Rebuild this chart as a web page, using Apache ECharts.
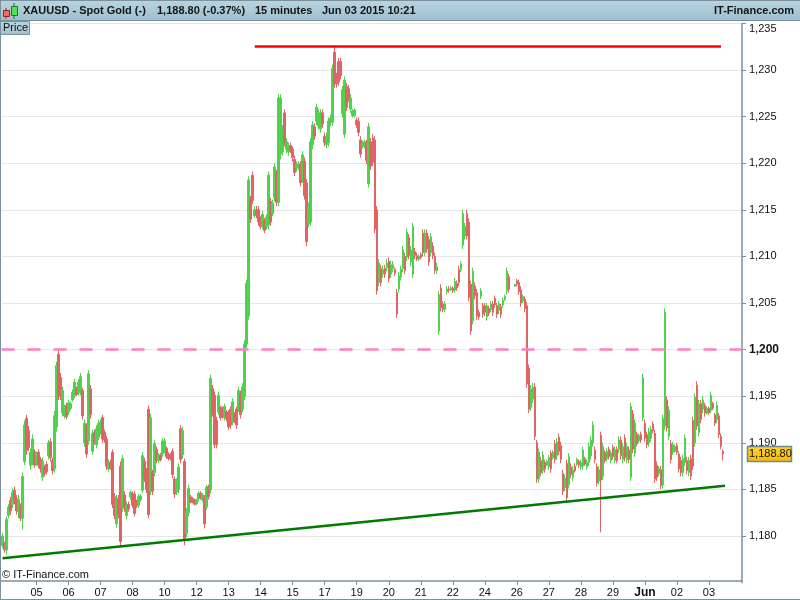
<!DOCTYPE html>
<html>
<head>
<meta charset="utf-8">
<style>html,body{margin:0;padding:0;background:#fff}#c{width:800px;height:600px}</style>
<script src="https://cdn.jsdelivr.net/npm/echarts@6/dist/echarts.min.js"></script>
</head>
<body>
<div id="c"></div>
<script>
const tickLabels = ['05','06','07','08','10','12','13','14','15','17','19','20','21','22','24','26','27','28','29','Jun','02','03'];
const priceTicksMin = 1175, priceTicksMax = 1235, priceStep = 5;
const lastPrice = 1188.80;
const resistance = 1232.6, psychological = 1200;
const supportStart = 1177.6, supportEnd = 1185.4;

const highs = [
1180.3,1179.4,1182.1,1183.4,1184.2,1185.1,1185.3,1184.4,1184.4,1183.5,
1186.8,1192.4,1193.0,1191.8,1189.4,1190.9,1189.3,1189.1,1189.3,1188.5,
1188.4,1187.6,1188.0,1190.3,1190.5,1188.4,1193.4,1198.7,1199.9,1197.5,
1196.0,1194.1,1194.3,1194.6,1194.4,1195.7,1196.9,1196.0,1196.8,1197.5,
1195.9,1192.5,1192.1,1197.8,1196.2,1191.4,1191.4,1191.9,1192.5,1192.5,
1193.0,1191.4,1190.7,1188.2,1188.2,1189.3,1184.6,1184.4,1184.4,1188.0,
1188.7,1184.8,1183.7,1183.7,1184.9,1184.8,1184.8,1183.9,1184.5,1184.5,
1189.0,1188.4,1187.3,1194.0,1193.1,1187.1,1190.3,1189.6,1188.9,1188.9,
1190.5,1190.5,1189.6,1189.0,1188.9,1189.4,1186.4,1186.2,1187.8,1191.9,
1191.7,1188.3,1183.0,1185.5,1184.4,1184.2,1184.0,1184.0,1184.8,1184.8,
1184.6,1184.4,1185.5,1185.5,1197.3,1196.2,1195.5,1192.8,1195.5,1194.0,
1193.9,1194.2,1193.5,1193.5,1193.9,1194.8,1193.3,1193.9,1196.0,1195.6,
1196.4,1201.0,1207.5,1218.6,1216.5,1219.1,1215.4,1215.4,1215.4,1214.3,
1214.9,1214.1,1214.5,1219.1,1216.3,1216.1,1220.0,1219.3,1227.4,1227.4,
1224.1,1225.8,1222.7,1222.2,1222.2,1221.8,1220.8,1220.2,1220.2,1220.2,
1221.3,1220.6,1218.3,1215.8,1222.7,1224.5,1224.3,1226.4,1225.8,1225.8,
1225.8,1223.3,1223.3,1224.9,1225.2,1230.6,1232.5,1229.7,1231.3,1231.3,
1228.3,1229.3,1228.6,1228.4,1227.4,1225.8,1225.9,1224.9,1224.9,1222.9,
1222.4,1222.5,1222.5,1224.3,1222.7,1223.1,1222.9,1215.4,1209.7,1209.1,
1209.0,1209.1,1209.7,1209.9,1209.5,1209.5,1208.8,1206.5,1208.3,1209.0,
1211.1,1210.4,1213.0,1212.4,1211.1,1213.6,1210.9,1210.4,1210.2,1210.4,
1212.9,1212.9,1212.9,1212.2,1212.5,1211.5,1210.4,1209.3,1206.3,1207.0,
1205.2,1205.2,1206.8,1206.8,1206.8,1206.8,1207.7,1207.4,1209.0,1209.5,
1215.0,1213.6,1215.0,1214.1,1207.4,1208.8,1207.2,1206.5,1204.3,1206.6,
1205.0,1205.0,1205.0,1204.7,1205.2,1205.2,1205.8,1205.0,1205.2,1204.9,
1205.6,1205.9,1208.8,1208.1,null,null,1207.0,1207.6,1207.5,1206.8,
1205.9,1205.7,1205.1,1198.4,1196.2,1196.4,1196.4,1190.3,1189.4,1188.5,
1189.1,1188.2,1188.2,1188.7,1189.2,1189.2,1190.3,1190.5,1191.0,1190.1,
1187.1,1186.6,1188.2,1188.9,1187.8,1187.5,1187.8,1188.4,1188.2,1188.2,
1189.6,1188.5,1188.2,1190.0,1190.7,1192.3,1189.6,1187.8,1187.5,1191.2,
1190.0,1189.2,1189.4,1189.6,1189.2,1189.8,1189.6,1189.6,1190.7,1190.7,
1190.0,1190.9,1190.0,1189.6,1194.3,1193.5,1192.5,1191.2,1191.0,1191.2,
1197.4,1192.5,1191.2,1191.6,1191.8,1192.3,1191.4,1188.0,1187.5,1187.5,
1193.0,1204.4,1195.0,1193.9,1190.3,1190.1,1189.8,1190.0,1189.1,1188.5,
1188.7,1190.9,1188.5,1188.5,1188.7,1192.8,1195.3,1196.6,1194.6,1194.6,
1195.0,1194.3,1193.9,1193.9,1195.5,1194.4,1193.2,1194.4,1193.2,1191.0,
1189.3];

const lows = [
1178.7,1178.2,1178.0,1181.9,1182.3,1183.0,1183.4,1182.3,1181.9,1181.6,
1180.7,1187.6,1188.7,1189.1,1187.1,1187.6,1187.3,1187.5,1187.3,1186.8,
1185.9,1186.4,1186.6,1188.2,1188.0,1186.6,1186.8,1191.2,1194.6,1194.6,
1192.8,1192.6,1192.5,1193.0,1193.5,1194.4,1194.8,1195.0,1195.1,1195.1,
1192.5,1189.6,1188.4,1189.8,1192.6,1188.7,1189.8,1189.4,1190.3,1190.9,
1190.0,1190.0,1187.1,1186.9,1187.1,1183.0,1181.8,1180.9,1181.9,1178.9,
1182.6,1182.6,1181.8,1182.6,1183.9,1183.0,1182.1,1183.0,1183.0,1183.7,
1184.6,1185.8,1184.6,1181.9,1184.4,1184.4,1186.4,1187.8,1187.8,1188.0,
1188.5,1188.9,1188.3,1188.1,1188.1,1186.2,1184.1,1184.4,1184.6,1187.8,
1188.3,1179.0,1179.9,1182.1,1183.5,1183.5,1183.3,1183.3,1183.7,1183.9,
1183.7,1180.8,1182.8,1183.9,1184.6,1192.8,1189.4,1189.4,1193.0,1192.4,
1192.6,1192.4,1192.3,1191.4,1191.5,1191.9,1192.1,1191.5,1193.3,1192.6,
1193.3,1194.6,1200.2,1203.2,1213.6,1215.6,1214.1,1214.1,1213.3,1212.9,
1212.9,1212.5,1212.9,1212.9,1213.3,1214.3,1215.9,1215.4,1215.4,1220.4,
1220.8,1221.8,1221.1,1220.8,1221.1,1220.2,1218.6,1219.1,1219.3,1217.5,
1217.9,1216.1,1211.1,1213.1,1213.3,1221.5,1222.5,1224.1,1223.6,1223.3,
1223.8,1221.8,1221.6,1221.8,1224.0,1224.0,1228.1,1228.1,1228.3,1229.0,
1224.9,1222.7,1225.6,1226.6,1225.4,1224.9,1224.9,1223.8,1222.9,1220.6,
1221.6,1221.6,1219.9,1217.4,1219.3,1219.7,1212.5,1205.9,1206.8,1206.8,
1207.7,1207.7,1208.4,1207.2,1207.7,1208.3,1207.9,1203.4,1206.1,1207.4,
1208.3,1208.1,1209.5,1209.7,1209.0,1207.7,1209.7,1209.5,1209.5,1209.7,
1210.0,1210.0,1210.4,1209.0,1210.0,1209.7,1208.1,1208.1,1201.6,1204.1,
1204.0,1204.0,1205.9,1206.1,1206.3,1206.1,1206.1,1206.3,1206.8,1208.3,
1210.8,1211.8,1211.8,1205.2,1201.6,1202.7,1205.4,1203.2,1203.2,1205.4,
1203.4,1203.6,1203.1,1203.6,1204.0,1203.6,1204.5,1203.4,1203.8,1203.4,
1204.5,1205.2,1205.9,1206.1,null,null,1206.8,1206.8,1205.9,1204.6,
1205.0,1204.0,1195.9,1193.2,1193.4,1194.3,1190.3,1185.7,1185.7,1186.4,
1186.6,1186.8,1187.5,1187.1,1186.8,1188.2,1187.8,1188.2,1188.7,1187.8,
1184.4,1184.8,1183.7,1185.1,1186.2,1185.9,1186.8,1187.5,1187.3,1187.1,
1187.1,1187.5,1187.1,1187.5,1188.2,1189.6,1187.8,1185.3,1185.5,1180.4,
1186.0,1187.8,1188.0,1188.2,1187.8,1188.2,1187.8,1187.8,1188.9,1188.2,
1187.8,1188.0,1187.8,1187.8,1185.9,1188.9,1188.5,1189.6,1190.0,1190.0,
1192.3,1190.1,1189.4,1189.6,1190.1,1191.0,1185.7,1185.9,1186.4,1185.0,
1185.1,1191.4,1191.2,1190.3,1187.8,1188.7,1188.9,1188.7,1186.8,1186.4,
1186.4,1187.5,1186.6,1186.4,1186.0,1187.1,1189.6,1191.4,1190.7,1192.1,
1193.2,1192.8,1193.0,1193.0,1193.2,1193.5,1191.8,1192.1,1190.5,1189.3,
1188.1];

const opens = [
1179.0,1179.1,1178.5,1182.2,1183.8,1183.4,1184.9,1184.0,1182.6,1183.2,
1181.9,1188.0,1192.6,1191.3,1187.6,1188.1,1189.0,1187.9,1189.0,1188.2,
1186.3,1187.3,1187.7,1188.6,1190.1,1188.1,1187.2,1191.7,1199.5,1197.0,
1193.2,1192.9,1194.0,1193.3,1193.7,1194.6,1195.1,1195.8,1195.4,1195.4,
1195.6,1190.0,1191.8,1190.2,1195.8,1189.1,1191.1,1189.8,1190.6,1191.2,
1192.7,1191.1,1190.4,1187.2,1187.9,1189.0,1184.2,1181.3,1184.0,1187.5,
1183.0,1184.4,1182.2,1183.4,1184.2,1184.5,1184.5,1183.7,1183.3,1183.9,
1184.9,1188.0,1187.0,1193.6,1184.8,1186.8,1186.8,1189.3,1188.1,1188.7,
1188.8,1189.2,1189.4,1188.8,1188.7,1189.1,1186.1,1184.7,1185.0,1191.5,
1188.7,1188.0,1180.3,1182.5,1184.2,1184.0,1183.9,1183.5,1184.0,1184.6,
1183.9,1184.1,1183.1,1185.3,1185.0,1195.8,1195.1,1192.4,1193.3,1193.8,
1193.6,1192.7,1193.3,1193.2,1193.6,1192.2,1193.1,1193.6,1193.6,1195.2,
1193.6,1195.0,1200.6,1203.6,1216.1,1218.7,1214.4,1215.0,1215.0,1214.0,
1213.3,1213.8,1213.2,1213.4,1215.9,1214.6,1216.3,1218.9,1215.8,1221.0,
1221.2,1225.4,1221.5,1221.2,1221.9,1221.5,1220.4,1219.5,1219.6,1219.9,
1218.3,1220.2,1217.9,1213.5,1213.7,1222.0,1223.9,1224.5,1224.0,1223.7,
1225.4,1222.9,1222.0,1222.2,1224.4,1224.4,1231.9,1229.3,1230.9,1230.9,
1225.3,1223.1,1228.2,1228.0,1225.8,1225.1,1225.1,1224.6,1224.5,1222.5,
1221.8,1221.8,1222.1,1217.8,1222.3,1222.7,1222.5,1215.0,1207.2,1208.7,
1208.1,1208.7,1208.8,1209.5,1208.1,1208.7,1208.6,1206.1,1206.5,1207.8,
1208.7,1210.0,1209.9,1212.0,1209.4,1208.1,1210.5,1210.1,1209.7,1210.2,
1212.5,1210.4,1212.5,1211.8,1210.4,1211.1,1210.0,1208.5,1202.0,1206.6,
1204.9,1204.3,1206.2,1206.5,1206.4,1206.6,1206.4,1207.1,1208.6,1208.6,
1211.2,1212.2,1214.6,1213.7,1207.0,1203.1,1206.8,1206.1,1204.0,1205.7,
1204.7,1204.7,1203.5,1204.4,1204.3,1204.9,1205.5,1204.7,1204.2,1204.6,
1204.8,1205.4,1206.3,1207.8,null,null,1206.8,1207.4,1207.2,1206.4,
1205.2,1205.4,1204.7,1198.0,1193.8,1194.7,1196.0,1190.0,1186.1,1188.1,
1187.0,1187.9,1187.6,1187.4,1188.9,1188.4,1189.9,1188.6,1190.6,1189.7,
1186.7,1185.2,1187.8,1185.5,1187.4,1186.3,1187.5,1187.7,1188.0,1187.4,
1187.5,1188.3,1187.4,1187.9,1188.6,1190.0,1189.2,1187.4,1185.9,1190.8,
1186.4,1189.0,1188.3,1189.3,1188.1,1189.5,1188.1,1189.3,1189.3,1190.3,
1188.2,1190.5,1188.2,1189.2,1186.3,1193.1,1188.9,1190.9,1190.2,1190.9,
1192.7,1192.1,1190.9,1190.0,1190.5,1192.0,1191.0,1187.6,1186.7,1187.1,
1185.5,1191.8,1194.6,1190.7,1189.9,1189.0,1189.1,1189.7,1188.8,1188.1,
1186.8,1187.9,1188.1,1186.8,1188.3,1192.4,1190.0,1196.2,1191.1,1194.2,
1193.6,1194.0,1193.2,1193.7,1193.5,1194.2,1193.0,1192.5,1192.9,1190.7,
1189.1];

const closes = [
1180.0,1178.5,1181.8,1183.1,1182.7,1184.7,1183.8,1182.7,1183.9,1181.9,
1186.4,1191.9,1189.2,1189.5,1189.0,1190.4,1187.6,1188.8,1187.6,1187.2,
1188.0,1186.7,1186.9,1190.0,1188.4,1187.0,1192.9,1198.3,1195.3,1195.0,
1195.6,1193.8,1192.8,1194.3,1194.2,1195.4,1196.5,1195.2,1196.5,1197.1,
1192.9,1192.1,1188.8,1197.4,1193.0,1191.0,1190.1,1191.5,1192.1,1192.2,
1190.4,1190.3,1187.5,1187.9,1187.4,1183.4,1182.2,1184.0,1182.3,1179.4,
1188.3,1183.0,1183.3,1182.9,1184.7,1183.3,1182.4,1183.2,1184.2,1184.3,
1188.6,1186.2,1185.0,1182.3,1192.7,1184.8,1189.9,1188.1,1188.7,1188.2,
1190.2,1190.2,1188.5,1188.3,1188.3,1186.6,1184.5,1185.9,1187.4,1188.2,
1191.3,1179.5,1182.6,1185.1,1183.7,1183.6,1183.4,1183.9,1184.6,1184.1,
1184.4,1181.3,1185.2,1184.2,1196.9,1193.1,1189.8,1189.8,1195.1,1192.7,
1192.9,1193.9,1192.6,1191.7,1191.9,1194.4,1192.3,1191.9,1195.6,1193.0,
1196.0,1200.6,1207.1,1218.2,1214.0,1216.0,1215.0,1214.4,1213.7,1213.2,
1214.5,1212.8,1214.2,1218.7,1213.7,1215.7,1219.6,1215.8,1227.0,1227.0,
1223.7,1222.2,1222.3,1221.8,1221.4,1220.6,1219.0,1219.9,1219.9,1217.9,
1220.9,1216.5,1211.6,1215.4,1222.3,1224.1,1222.9,1226.0,1225.4,1225.4,
1224.2,1222.2,1222.9,1224.5,1224.8,1230.2,1228.5,1228.5,1228.7,1229.4,
1227.9,1228.9,1226.0,1227.0,1227.0,1225.6,1225.7,1224.1,1223.3,1221.0,
1222.2,1222.3,1220.3,1223.9,1219.7,1220.1,1212.9,1206.3,1209.3,1207.2,
1208.6,1208.1,1209.3,1207.6,1209.1,1209.1,1208.2,1203.8,1207.9,1208.6,
1210.7,1208.5,1212.6,1210.1,1210.7,1213.2,1210.1,1209.7,1210.0,1209.9,
1210.4,1212.5,1210.8,1209.4,1212.1,1210.1,1208.5,1208.9,1205.9,1204.5,
1204.3,1204.9,1206.5,1206.4,1206.6,1206.3,1207.3,1206.6,1207.2,1209.2,
1214.6,1213.2,1212.2,1205.6,1202.0,1208.4,1205.8,1203.6,1203.5,1206.3,
1203.8,1204.0,1204.7,1203.9,1204.9,1204.0,1204.8,1203.8,1204.9,1203.8,
1205.3,1205.7,1208.4,1206.5,null,null,1207.0,1207.0,1206.2,1205.0,
1205.7,1204.4,1196.3,1193.6,1195.8,1196.0,1190.7,1186.1,1189.0,1186.8,
1188.7,1187.2,1188.0,1188.4,1187.2,1189.0,1188.2,1190.1,1189.1,1188.2,
1184.8,1186.2,1184.1,1188.5,1186.6,1187.1,1187.0,1188.2,1187.6,1187.9,
1189.2,1187.7,1187.9,1189.6,1190.3,1191.9,1188.2,1185.7,1187.1,1186.0,
1189.6,1188.1,1189.1,1188.5,1188.9,1188.5,1189.3,1188.1,1190.3,1188.6,
1189.6,1188.4,1189.6,1188.2,1193.9,1189.3,1192.1,1189.9,1190.8,1190.3,
1197.0,1190.5,1189.8,1191.2,1191.4,1191.3,1186.1,1186.3,1187.2,1185.4,
1192.6,1204.0,1191.6,1193.5,1188.2,1189.8,1189.6,1189.0,1187.2,1186.8,
1188.3,1190.5,1187.0,1188.1,1186.4,1187.5,1194.9,1191.8,1194.2,1192.5,
1194.6,1193.2,1193.7,1193.2,1195.1,1193.7,1192.1,1194.0,1190.9,1189.6,
1188.8];

const categoryCount = 370;
const categories = Array.from({length: categoryCount}, (_, i) => {
  const k = (i - 17) / 16;
  return Number.isInteger(k) && tickLabels[k] !== undefined ? tickLabels[k] : '';
});
const candleData = opens.map((o, i) => o === null ? ['-','-','-','-'] : [o, closes[i], lows[i], highs[i]]);
const isTick = (i) => categories[i] !== '';

const chart = echarts.init(document.getElementById('c'), null, {renderer: 'canvas'});
const FONT = '"Liberation Sans", Arial, sans-serif';
const FRAME = '#7b919e';
const headerText = (x, text) => ({
  type: 'text', left: x, top: 5.5, z: 20,
  style: {text, fill: '#141414', font: 'bold 11px ' + FONT}
});
const barFill = () => new echarts.graphic.LinearGradient(0,0,0,1,[{offset:0,color:'#bad5e2'},{offset:1,color:'#9dbecd'}]);
chart.setOption({
  animation: false,
  backgroundColor: '#ffffff',
  grid: {left: 1.5, top: 23.4, width: 740.5, height: 559.2, containLabel: false},
  xAxis: {
    type: 'category', data: categories, boundaryGap: true, offset: -1.6,
    axisLine: {lineStyle: {color: FRAME, width: 1.5}},
    axisTick: {show: true, alignWithLabel: true, interval: (i) => isTick(i), length: 4, lineStyle: {color: FRAME}},
    axisLabel: {
      interval: (i) => isTick(i), margin: 6, fontFamily: FONT, fontSize: 11, color: '#111',
      formatter: (v) => v === 'Jun' ? '{b|Jun}' : v,
      rich: {b: {fontWeight: 'bold', fontFamily: FONT, fontSize: 12, color: '#111'}}
    },
    splitLine: {show: false}
  },
  yAxis: {
    type: 'value', position: 'right', min: priceTicksMin, max: priceTicksMax, interval: priceStep, scale: true,
    axisLine: {show: true, lineStyle: {color: FRAME, width: 1.5}},
    axisTick: {show: true, length: 4, lineStyle: {color: FRAME}},
    axisLabel: {
      margin: 7, fontFamily: FONT, fontSize: 11, color: '#111', verticalAlignMaxLabel: 'top', showMinLabel: false,
      formatter: (v) => {
        const s = '1,' + String(v).slice(1);
        return v === psychological ? '{b|' + s + '}' : s;
      },
      rich: {b: {fontWeight: 'bold', fontFamily: FONT, fontSize: 12, color: '#111'}}
    },
    splitLine: {show: true, showMinLine: false, lineStyle: {color: '#e6e6e6', width: 1}}
  },
  series: [{
    type: 'candlestick', data: candleData, barWidth: 2, clip: true, silent: true,
    itemStyle: {color: '#4ed24e', color0: '#e06464', borderColor: '#4ed24e', borderColor0: '#e06464', borderWidth: 1},
    markLine: {
      silent: true, symbol: 'none', animation: false, label: {show: false},
      data: [
        [{coord: [126, resistance], lineStyle: {color: '#ff0000', width: 2.5, type: 'solid'}}, {coord: [359, resistance]}],
        [{coord: [0, supportStart], lineStyle: {color: '#007a00', width: 2.5, type: 'solid'}}, {coord: [361, supportEnd]}],
        {yAxis: psychological, lineStyle: {color: '#ff80c0', width: 2.5, type: [13, 13]}}
      ]
    }
  }],
  graphic: [
    {type: 'rect', z: 15, shape: {x: -1, y: 0.5, width: 802, height: 20}, style: {stroke: FRAME, lineWidth: 1, fill: barFill()}},
    {type: 'rect', z: 16, shape: {x: 0.5, y: 21.5, width: 29, height: 13}, style: {stroke: FRAME, lineWidth: 1, fill: barFill()}},
    {type: 'text', z: 17, left: 3, top: 22.5, style: {text: 'Price', fill: '#111', font: '11px ' + FONT}},
    {type: 'line', z: 15, shape: {x1: 0.5, y1: 0, x2: 0.5, y2: 600}, style: {stroke: FRAME, lineWidth: 1}},
    {type: 'line', z: 15, shape: {x1: 0, y1: 599.5, x2: 800, y2: 599.5}, style: {stroke: FRAME, lineWidth: 1}},
    {type: 'line', z: 16, shape: {x1: 6, y1: 8, x2: 6, y2: 19}, style: {stroke: '#b02020', lineWidth: 1}},
    {type: 'rect', z: 17, shape: {x: 3.5, y: 10.5, width: 6, height: 6}, style: {fill: '#f06a6a', stroke: '#a02020', lineWidth: 1}},
    {type: 'line', z: 16, shape: {x1: 14, y1: 3, x2: 14, y2: 19}, style: {stroke: '#108010', lineWidth: 1}},
    {type: 'rect', z: 17, shape: {x: 11.5, y: 6.5, width: 6, height: 9}, style: {fill: '#58e058', stroke: '#108010', lineWidth: 1}},
    headerText(23, 'XAUUSD - Spot Gold (-)'),
    headerText(157, '1,188.80 (-0.37%)'),
    headerText(255, '15 minutes'),
    headerText(322, 'Jun 03 2015 10:21'),
    headerText(714, 'IT-Finance.com'),
    {type: 'text', z: 17, left: 2, top: 569.5, style: {text: '© IT-Finance.com', fill: '#111', font: '11px ' + FONT}},
    {type: 'rect', z: 17, shape: {x: 747.5, y: 446.5, width: 44, height: 15},
      style: {stroke: '#6f8a90', lineWidth: 1.5, fill: new echarts.graphic.LinearGradient(0,0,0,1,[{offset:0,color:'#ffd531'},{offset:1,color:'#f5b700'}])}},
    {type: 'text', z: 18, left: 749, top: 448.5, style: {text: lastPrice.toFixed(2).replace(/^1/, '1,'), fill: '#111', font: '11px ' + FONT}}
  ]
});
</script>
</body>
</html>
